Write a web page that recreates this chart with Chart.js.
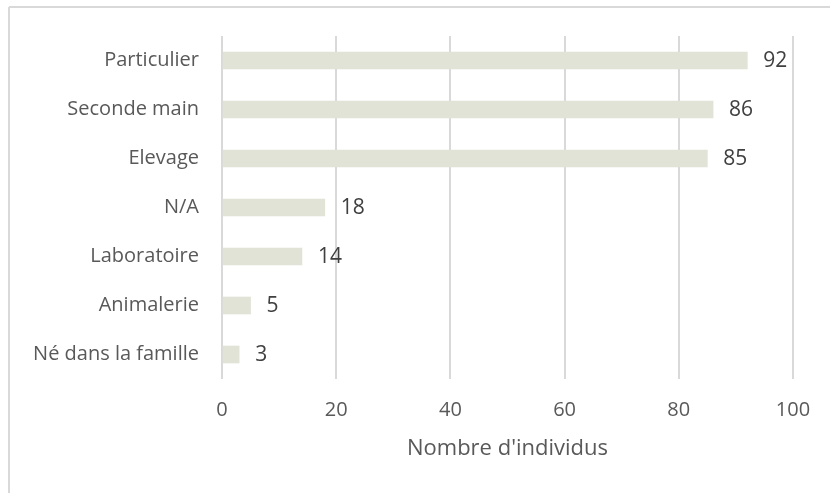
<!DOCTYPE html>
<html>
<head>
<meta charset="utf-8">
<script src="https://cdn.jsdelivr.net/npm/chart.js@4"></script>
<style>
  html, body { margin: 0; padding: 0; background: #fff; }
  canvas { display: block; }
</style>
</head>
<body>
<canvas id="chart" width="830" height="493"></canvas>
<script>
// Data
const categories = ['Particulier', 'Seconde main', 'Elevage', 'N/A', 'Laboratoire', 'Animalerie', 'Né dans la famille'];
const counts = [92, 86, 85, 18, 14, 5, 3];
const xTicks = [0, 20, 40, 60, 80, 100];
const xTitle = "Nombre d'individus";

const FONT = "'Open Sans', 'Noto Sans', sans-serif";

// Frame lines (top and left edges of the chart box)
const framePlugin = {
    id: 'frame',
    beforeDraw(chart) {
        const ctx = chart.ctx;
        ctx.save();
        ctx.fillStyle = '#fff';
        ctx.fillRect(0, 0, chart.width, chart.height);
        ctx.strokeStyle = '#d9d9d9';
        ctx.lineWidth = 2;
        ctx.beginPath();
        ctx.moveTo(9, 7);
        ctx.lineTo(chart.width, 7);
        ctx.moveTo(9, 7);
        ctx.lineTo(9, chart.height);
        ctx.stroke();
        ctx.restore();
    }
};

// Value labels to the right of each bar
const valueLabels = {
    id: 'valueLabels',
    afterDatasetsDraw(chart) {
        const ctx = chart.ctx;
        const meta = chart.getDatasetMeta(0);
        ctx.save();
        ctx.font = '21px ' + FONT;
        ctx.fillStyle = '#404040';
        ctx.textAlign = 'left';
        ctx.textBaseline = 'middle';
        meta.data.forEach((bar, i) => {
            ctx.fillText(String(counts[i]), bar.x + 16, bar.y + 1);
        });
        ctx.restore();
    }
};

new Chart(document.getElementById('chart'), {
    type: 'bar',
    data: {
        labels: categories,
        datasets: [{
            data: counts,
            backgroundColor: '#e0e3d6',
            barThickness: 17,
        }],
    },
    options: {
        indexAxis: 'y',
        responsive: false,
        devicePixelRatio: 1,
        animation: false,
        layout: { padding: { top: 36, right: 37, left: 0, bottom: 0 } },
        plugins: {
            legend: { display: false },
            tooltip: { enabled: false },
        },
        scales: {
            x: {
                min: 0,
                max: 100,
                afterBuildTicks(scale) {
                    scale.ticks = xTicks.map(v => ({ value: v }));
                },
                afterFit(scale) { scale.height = 114; },
                grid: { color: '#d9d9d9', lineWidth: 2, drawTicks: false },
                border: { display: false },
                ticks: {
                    color: '#595959',
                    font: { family: FONT, size: 20 },
                    padding: 19,
                },
                title: {
                    display: true,
                    text: xTitle,
                    color: '#595959',
                    font: { family: FONT, size: 22 },
                    padding: { top: 0, bottom: 31 },
                },
            },
            y: {
                afterFit(scale) { scale.width = 222; },
                grid: { display: false, drawTicks: false },
                border: { display: false },
                ticks: {
                    color: '#595959',
                    font: { family: FONT, size: 20 },
                    padding: 23,
                },
            },
        },
    },
    plugins: [framePlugin, valueLabels],
});
</script>
</body>
</html>
